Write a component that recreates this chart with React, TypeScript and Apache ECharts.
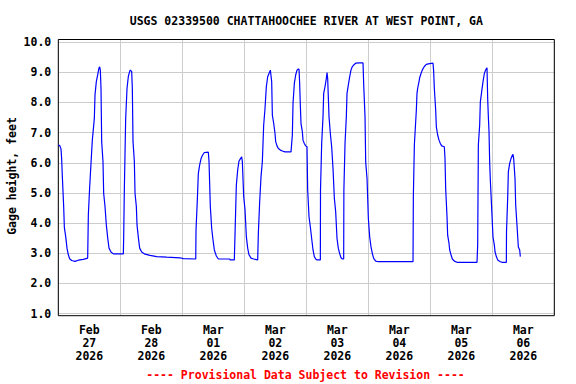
import React, { useEffect, useRef } from "react";
import * as echarts from "echarts";

const titleText = "USGS 02339500 CHATTAHOOCHEE RIVER AT WEST POINT, GA";
const footerText = "---- Provisional Data Subject to Revision ----";
const yAxisName = "Gage height, feet";
const dayLabels = [
  "Feb\n27\n2026", "Feb\n28\n2026", "Mar\n01\n2026", "Mar\n02\n2026",
  "Mar\n03\n2026", "Mar\n04\n2026", "Mar\n05\n2026", "Mar\n06\n2026",
];
// hours since Feb 27 2026 00:00
const hours = [
  0, 0.53, 1.04, 1.3, 1.56, 2.08, 2.34, 2.85, 3.37, 3.88, 4.4, 5.17, 6.46, 7.75, 9.69, 11.37,
  11.63, 12.14, 12.66, 13.17, 13.95, 14.21, 14.72, 15.24, 15.76, 16.01, 16.27, 16.53, 16.79, 17.3,
  17.56, 18.08, 18.59, 19.11, 19.63, 20.4, 21.3, 25.18, 25.3, 25.56, 26.08, 26.6, 27.11, 27.63,
  27.89, 28.15, 28.4, 28.66, 28.92, 29.44, 29.7, 30.21, 30.47, 30.99, 31.5, 32.28, 33.57, 35.51,
  38.09, 41.96, 47.12, 48.4, 53.2, 53.31, 53.82, 54.21, 54.73, 55.24, 55.76, 56.53, 58.08, 58.34,
  58.85, 59.37, 59.89, 60.4, 61.18, 61.95, 66.34, 66.47, 68.14, 68.4, 68.92, 69.44, 69.95, 70.47,
  70.99, 71.24, 71.76, 72.28, 72.79, 73.31, 73.82, 74.6, 75.63, 77.18, 77.44, 77.95, 78.47, 78.99,
  79.5, 80.02, 80.53, 81.05, 81.56, 82.08, 82.6, 82.86, 83.37, 83.89, 84.15, 84.66, 85.18, 85.95,
  86.73, 87.76, 90.08, 90.6, 90.86, 91.37, 91.89, 92.4, 92.92, 93.18, 93.43, 93.69, 93.95, 94.47,
  94.72, 95.24, 95.76, 96.27, 96.53, 97.05, 97.56, 98.08, 98.6, 99.11, 99.63, 100.15, 101.44, 101.5,
  101.95, 102.47, 102.73, 103.24, 103.76, 104.02, 104.27, 104.79, 105.31, 105.82, 106.34, 106.86,
  107.37, 107.89, 108.4, 108.92, 109.44, 109.95, 110.47, 110.55, 110.99, 111.5, 111.76, 112.28,
  112.79, 113.31, 113.83, 114.34, 115.12, 116.67, 117.96, 118.22, 118.73, 118.99, 119.51, 120.02,
  120.54, 121.05, 121.57, 122.08, 122.86, 123.89, 137.31, 137.44, 137.83, 138.6, 138.85, 139.11,
  139.63, 139.89, 140.4, 140.92, 141.69, 142.47, 143.24, 145.05, 145.31, 145.56, 146.08, 146.34,
  146.85, 147.37, 147.89, 148.4, 149.43, 149.69, 149.95, 150.47, 150.72, 151.24, 151.5, 152.01,
  152.53, 153.3, 154.34, 162.08, 162.34, 162.6, 163.11, 163.37, 163.89, 164.4, 164.92, 165.44,
  165.95, 166.21, 166.47, 166.73, 166.98, 167.24, 167.76, 168.27, 168.79, 169.05, 169.57, 170.08,
  171.11, 171.89, 173.44, 173.5, 173.95, 174.21, 174.73, 175.24, 175.76, 176.02, 176.27, 176.79,
  177.05, 177.56, 178.08, 178.6, 178.85,
];
const gageHeight = [
  6.59, 6.57, 6.46, 6.13, 5.55, 4.55, 3.86, 3.56, 3.17, 2.95, 2.82, 2.76, 2.73, 2.77, 2.8, 2.84,
  4.27, 5.19, 5.98, 6.75, 7.47, 8.25, 8.69, 8.91, 9.15, 9.18, 9.07, 8.46, 6.7, 6.04,
  4.99, 4.55, 3.94, 3.52, 3.17, 3.04, 2.98, 2.98, 3.5, 5.1, 7.47, 8.46, 8.86, 9.03,
  9.07, 9.07, 9.03, 8.46, 6.7, 6.04, 4.99, 4.55, 3.94, 3.52, 3.17, 3.04, 2.97, 2.93,
  2.89, 2.87, 2.85, 2.82, 2.81, 3.77, 4.77, 5.65, 5.93, 6.13, 6.24, 6.34, 6.35, 6.04,
  4.55, 3.83, 3.44, 3.11, 2.91, 2.81, 2.81, 2.78, 2.78, 3.61, 5.26, 5.76, 6.06, 6.13,
  6.2, 6.04, 4.88, 4.44, 3.55, 3.17, 2.95, 2.84, 2.81, 2.78, 3.66, 4.71, 5.54, 6.04,
  7.25, 7.8, 8.52, 8.85, 8.96, 9.07, 8.69, 7.58, 7.31, 6.97, 6.7, 6.56, 6.47, 6.42,
  6.39, 6.36, 6.36, 6.92, 7.97, 8.63, 8.91, 9.07, 9.11, 9.1, 8.63, 7.91, 7.3, 7.03,
  6.75, 6.64, 6.56, 6.53, 5.1, 4.21, 3.88, 3.49, 3.11, 2.89, 2.81, 2.78, 2.78, 5.1,
  6.64, 7.53, 8.3, 8.52, 8.8, 8.99, 8.8, 7.53, 6.97, 6.53, 5.81, 4.82,
  4.38, 3.49, 3.16, 2.99, 2.85, 2.81, 2.81, 5.1, 6.64, 7.53, 8.3, 8.58,
  8.85, 9.08, 9.19, 9.24, 9.3, 9.31, 9.31, 8.58, 7.53, 6.03, 5.48, 4.15,
  3.54, 3.21, 2.99, 2.83, 2.74, 2.72, 2.72, 4.88, 6.59, 7.75, 8.3, 8.47,
  8.69, 8.82, 8.96, 9.08, 9.19, 9.26, 9.28, 9.3, 9.02, 8.47, 7.75, 7.19,
  6.92, 6.75, 6.64, 6.56, 6.53, 6.14, 5.15, 4.21, 3.6, 3.33, 3.11, 2.95,
  2.81, 2.74, 2.7, 2.7, 3.27, 6.59, 7.25, 8.02, 8.36, 8.69, 8.96, 9.08,
  9.15, 8.13, 7.53, 7.03, 6.03, 5.42, 4.48, 3.54, 3.27, 3.05, 2.89, 2.78,
  2.72, 2.7, 2.7, 3.71, 4.82, 5.7, 5.98, 6.14, 6.25, 6.28, 6.14, 5.48,
  4.6, 3.93, 3.21, 3.11, 2.89,
];

const FONT = "'DejaVu Sans Mono', 'Liberation Mono', monospace";

export default function App() {
  const ref = useRef<HTMLDivElement>(null);
  useEffect(() => {
    if (!ref.current) return;
    const chart = echarts.init(ref.current, null, { renderer: "svg" });
    const data = hours.map((h, i) => [h, gageHeight[i]]);
    const L = 58.3, R = 576 - 554.3;
    chart.setOption({
      animation: false,
      backgroundColor: "#ffffff",
      grid: [
        { left: L, right: R, top: 42.1, bottom: 384 - 313.6, containLabel: false, outerBoundsMode: "none" },
        { left: L, right: R, top: 39.5, bottom: 384 - 315.7, containLabel: false, outerBoundsMode: "none", show: true, borderColor: "#000", borderWidth: 1, backgroundColor: "transparent", z: 5 },
      ],
      xAxis: [
        { type: "value", gridIndex: 0, min: 0, max: 192, show: false },
        {
          type: "category", gridIndex: 1, data: dayLabels, boundaryGap: true,
          axisLine: { show: false }, axisTick: { show: false },
          axisLabel: { interval: 0, margin: 8, color: "#000", fontFamily: FONT, fontWeight: "bold", fontSize: 11.5, lineHeight: 13 },
          splitLine: { show: true, interval: 0, lineStyle: { color: "#cccccc", width: 1 } },
        },
      ],
      yAxis: [
        {
          type: "value", gridIndex: 0, min: 1, max: 10, interval: 1,
          axisLine: { show: false }, axisTick: { show: false },
          axisLabel: { margin: 7, color: "#000", fontFamily: FONT, fontWeight: "bold", fontSize: 11.5, formatter: (v: number) => v.toFixed(1) },
          splitLine: { show: true, lineStyle: { color: "#cccccc", width: 1 } },
        },
        { type: "value", gridIndex: 1, show: false, min: 0, max: 1 },
      ],
      series: [
        {
          type: "line", xAxisIndex: 0, yAxisIndex: 0, data, showSymbol: false, symbol: "none",
          lineStyle: { color: "#0000ff", width: 1.2 }, z: 10,
        },
      ],
      graphic: [
        { type: "text", x: 306.3, y: 20.5, style: { text: titleText, fill: "#000", font: `bold 11.5px ${FONT}`, textAlign: "center", textVerticalAlign: "middle" } },
        { type: "text", x: 305.5, y: 375, style: { text: footerText, fill: "#ff0000", font: `bold 11.5px ${FONT}`, textAlign: "center", textVerticalAlign: "middle" } },
        { type: "text", x: 12, y: 176, rotation: Math.PI / 2, style: { text: yAxisName, fill: "#000", font: `bold 11.5px ${FONT}`, textAlign: "center", textVerticalAlign: "middle" } },
      ],
    });
    return () => chart.dispose();
  }, []);
  return <div ref={ref} style={{ position: "fixed", left: 0, top: 0, width: 576, height: 384, background: "#fff" }} />;
}
